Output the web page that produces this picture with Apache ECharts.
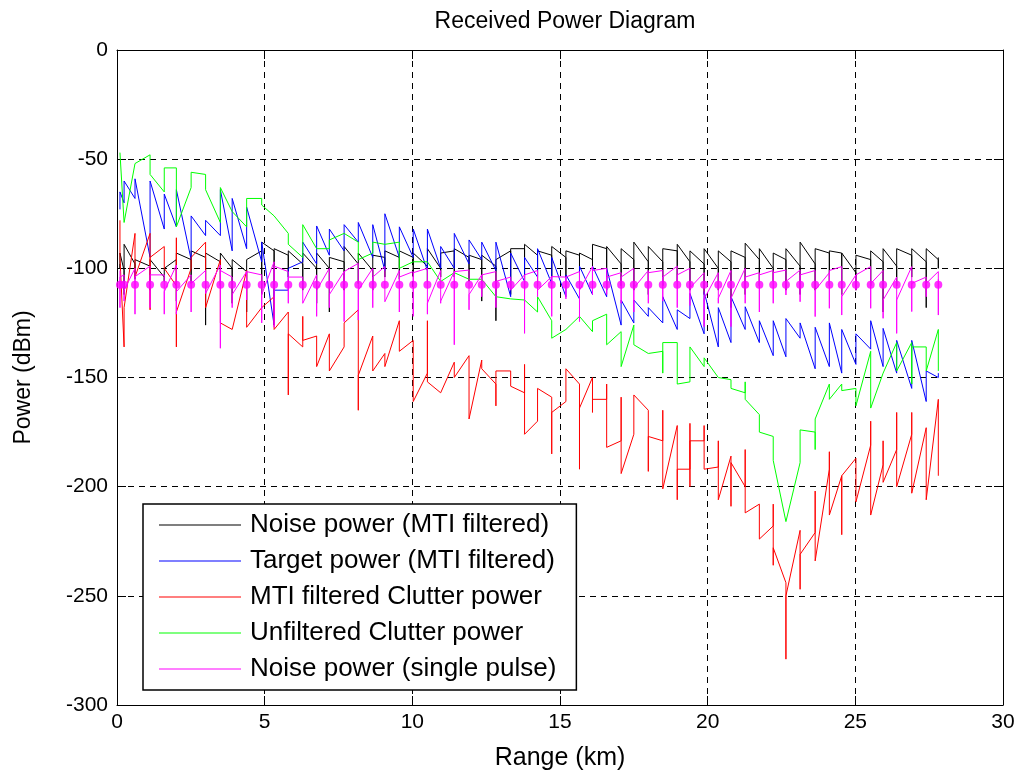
<!DOCTYPE html>
<html><head><meta charset="utf-8">
<script src="https://cdn.jsdelivr.net/npm/echarts@6/dist/echarts.min.js"></script>
<style>html,body{margin:0;padding:0;background:#fff}#c{width:1025px;height:771px}</style>
</head><body><div id="c"></div>
<script>
// Range positions (km) of the samples
const ranges = [0.10,0.24,0.61,1.12,1.60,2.01,2.51,3.00,3.50,3.90,4.39,4.90,5.32,5.80,6.29,6.76,7.19,7.69,8.17,8.66,9.07,9.56,10.03,10.51,10.96,11.42,11.92,12.35,12.83,13.33,13.80,14.24,14.72,15.20,15.66,16.10,16.58,17.07,17.50,17.99,18.48,18.97,19.40,19.88,20.36,20.79,21.27,21.75,22.22,22.65,23.13,23.64,24.12,24.54,25.02,25.52,25.94,26.40,26.91,27.40,27.81];

// Each entry: the power values (dBm) traced at that range, in drawing order
const noiseMti = [[-98,-100,-93],[-101,-112,-89],[-98,-105,-96],[-99,-110,-96],[-104,-106,-100],[-96,-115,-93],[-96,-107,-92],[-95,-126,-93],[-97,-108,-93],[-100,-116,-96],[-101.5,-120,-96],[-92,-112,-88],[-92,-126,-91],[-94,-104,-92],[-98,-110,-93],[-100,-116,-93],[-100,-120,-95],[-97,-110,-90],[-98,-107,-93],[-101,-110,-94],[-95,-104,-92],[-95,-105,-92],[-95,-104,-93],[-99,-106,-91],[-100,-104,-93],[-92,-104,-91],[-95,-106,-94],[-96,-115,-94],[-99,-124,-96],[-92,-112,-91],[-91,-110,-89],[-94,-108,-92],[-94,-104,-90],[-95,-104,-92],[-94,-108,-93],[-96,-106,-89],[-91,-110,-90],[-98,-108,-91],[-96,-110,-88],[-97,-112,-90],[-97,-108,-91],[-92,-106,-89],[-97,-110,-92],[-98,-112,-91],[-100,-110,-92],[-97,-118,-92],[-95,-112,-88.5],[-96,-108,-91],[-100,-106,-93],[-96,-110,-91],[-99,-112,-88],[-98,-110,-91],[-93,-108,-92],[-93,-112,-93],[-102,-110,-94],[-96,-108,-92],[-97,-120,-91],[-99,-108,-91],[-94,-104,-91],[-97,-118,-91],[-96,-100,-95]];

const targetMti = [[-73,-65],[-70,-60],[-68,-59],[-95,-60],[-82,-66],[-81,-64],[-96,-76],[-85,-78],[-85,-64],[-92,-68],[-91,-72],[-97,-88],[-126,-110],[-110,-100],[-97,-88],[-98,-80.6],[-94,-82],[-92,-80],[-88,-79],[-95,-80],[-101,-75],[-95,-81],[-95,-82],[-101,-82],[-100,-90],[-100,-84],[-98,-87],[-96,-88],[-101,-88],[-113,-93],[-106,-95],[-104,-91],[-107,-95],[-113,-103],[-114,-99],[-112,-99],[-113,-100],[-126,-114.5],[-125,-114.5],[-122,-118],[-125,-113],[-128,-119],[-123,-111.5],[-130,-110.7],[-136,-118],[-134,-113],[-128,-117.6],[-134,-124],[-140,-124],[-140.5,-123],[-132,-125],[-146,-127],[-145,-125],[-148,-128],[-144,-130],[-137,-124],[-145,-127.5],[-148,-133],[-155,-133],[-161,-147],[-150,-148]];

const clutterMti = [[-78,-95],[-136,-118],[-84,-104],[-84,-119,-95],[-90,-100],[-108,-86,-136,-120],[-100,-95],[-88,-118],[-96,-125],[-128],[-101,-127],[-118],[-113,-128],[-120,-158,-130],[-136,-122,-133],[-131,-145],[-130,-147],[-136,-125],[-119,-165,-149],[-131,-147],[-139,-145],[-124,-138],[-133,-161],[-148,-124,-152],[-157],[-143,-150],[-140,-169],[-142,-146],[-153,-163,-147],[-147,-154],[-157,-144,-176],[-170,-155],[-159,-185,-166],[-161,-146],[-153,-192,-164],[-150,-166,-160],[-160,-153,-182],[-179,-159,-194],[-176,-158],[-165,-193,-177],[-179,-165,-201],[-172,-206,-192],[-192,-171,-200,-179],[-179,-172,-192],[-191,-179,-206],[-186,-209,-189],[-200,-183,-212],[-208,-224],[-218,-208,-236,-228],[-244,-279,-250],[-220,-247,-231],[-221,-202,-234],[-192,-184,-213],[-195,-222,-195],[-187,-207],[-181,-170,-213],[-190,-179,-198],[-183,-166,-200],[-176,-166,-203],[-173,-206],[-160,-195]];

const clutterRaw = [[-47],[-79],[-52],[-48,-57],[-65,-54],[-54,-81],[-63,-56],[-57,-64],[-79,-63],[-74],[-81,-68],[-68,-71],[-76],[-84,-89],[-95,-80],[-91],[-91,-87],[-84],[-88,-96],[-93,-88],[-89],[-88,-100],[-97],[-97],[-106],[-102],[-105],[-105],[-113],[-114],[-114.5],[-120,-113],[-124,-132],[-128],[-122],[-129,-124],[-121,-135],[-129,-145],[-126,-135],[-139],[-138,-148,-134],[-134,-153],[-152,-136],[-145,-141],[-150],[-151,-155],[-157,-152,-160],[-167,-175],[-177,-188],[-216],[-189,-174],[-175,-183,-169],[-153,-160],[-153,-156],[-155,-163],[-138,-164],[-148],[-134,-147],[-134,-153,-136],[-136,-147],[-128,-147]];

const noiseSingle = [[-101,-118,-104],[-103,-115,-110],[-100,-121,-103.8],[-99,-118,-103],[-103,-121,-110.7],[-98.5,-121,-110.7],[-103,-120,-107],[-101,-111.5,-110.7],[-98.5,-136.6,-101],[-104,-118,-112],[-101.5,-114.5,-101.5],[-103,-125,-112],[-97,-127,-99],[-101.5,-116,-104],[-104,-116,-116],[-103,-122,-110],[-100,-118,-112],[-101.5,-124.4,-101.5],[-97.7,-123.7,-110],[-100,-118,-104],[-99.2,-115.3,-115.3],[-101,-120,-104],[-101.5,-122,-102],[-100,-121,-116],[-101,-116,-115],[-101.5,-135,-101.5],[-100.8,-119,-112],[-103,-113,-103],[-101.5,-118,-106],[-104,-110,-110],[-103,-129.8,-103],[-101,-113,-110],[-103.8,-122,-103.8],[-104,-114,-104],[-101.5,-124.4,-110],[-99.2,-112,-101],[-100,-112,-104],[-102,-116,-104],[-100,-120,-109],[-101,-116,-102],[-101,-115,-104],[-99,-118,-103],[-100,-117,-109],[-102,-126.7,-114],[-102,-116,-113.7],[-101,-126.7,-113.7],[-100,-116,-104],[-102,-120,-103],[-101,-116,-102],[-100.8,-112.2,-106],[-100.8,-115.3,-103],[-101,-122.1,-110],[-102,-118.3,-101],[-99.2,-121.4,-113],[-103,-110,-103],[-99.2,-118.3,-107],[-101,-122.9,-114.5],[-104,-129.8,-114.5],[-99.2,-119.8,-106.9],[-104,-113,-106.9],[-101.5,-121.4,-105]];

// Mean single-pulse noise level marked with dots at each range
const noiseDots = [-107.5,-107.5,-107.5,-107.5,-107.5,-107.5,-107.5,-107.5,-107.5,-107.5,-107.5,-107.5,-107.5,-107.5,-107.5,-107.5,-107.5,-107.5,-107.5,-107.5,-107.5,-107.5,-107.5,-107.5,-107.5,-107.5,-107.5,-107.5,-107.5,-107.5,-107.5,-107.5,-107.5,-107.5,-107.5,-107.5,-107.5,-107.5,-107.5,-107.5,-107.5,-107.5,-107.5,-107.5,-107.5,-107.5,-107.5,-107.5,-107.5,-107.5,-107.5,-107.5,-107.5,-107.5,-107.5,-107.5,-107.5,-107.5,-107.5,-107.5,-107.5];

const seriesNames = ['Noise power (MTI filtered)','Target power (MTI filtered)','MTI filtered Clutter power','Unfiltered Clutter power','Noise power (single pulse)'];
const seriesColors = ['#000000','#0000ff','#ff0000','#00ff00','#ff00ff'];
const seriesValues = [noiseMti, targetMti, clutterMti, clutterRaw, noiseSingle];

const FONT = 'Liberation Sans';

function toPath(list){
  const out = [];
  list.forEach((ys, i) => ys.forEach(y => out.push([ranges[i], y])));
  return out;
}

const chart = echarts.init(document.getElementById('c'), null, {renderer:'canvas'});

const lineSeries = seriesValues.map((vals, k) => ({
  name: seriesNames[k], type:'line', data: toPath(vals),
  symbol:'none', showSymbol:false, silent:true, animation:false,
  color: seriesColors[k],
  itemStyle:{color: seriesColors[k]},
  lineStyle:{color: seriesColors[k], width:1}, z: 2 + k
}));
lineSeries.push({
  name:'dots', type:'scatter', data: noiseDots.map((v,i)=>[ranges[i], v]),
  symbol:'circle', symbolSize:8, itemStyle:{color:'#ff00ff'}, silent:true, animation:false, z:8
});

const axisCommon = {
  axisLine:{show:true, onZero:false, lineStyle:{color:'#000', width:1}},
  axisTick:{show:true, inside:true, length:9, lineStyle:{color:'#000'}},
};

chart.setOption({
  animation:false,
  backgroundColor:'#ffffff',
  title:{text:'Received Power Diagram', left:560, top:5, textAlign:'center',
    textStyle:{fontFamily:FONT, fontSize:23, fontWeight:'normal', color:'#000'}},
  grid:{left:117, top:50, width:886, height:655, containLabel:false, outerBoundsMode:'none'},
  xAxis:[
    Object.assign({type:'value', min:0, max:30, interval:5, position:'bottom',
      name:'Range (km)', nameLocation:'middle', nameGap:41,
      nameTextStyle:{fontFamily:FONT, fontSize:25, color:'#000'},
      axisLabel:{fontFamily:FONT, fontSize:21, color:'#000', margin:7},
      splitLine:{show:true, lineStyle:{color:'#000', width:1, type:[6,5]}}}, axisCommon),
    Object.assign({type:'value', min:0, max:30, interval:5, position:'top',
      axisLabel:{show:false}, splitLine:{show:false}}, axisCommon)
  ],
  yAxis:[
    Object.assign({type:'value', min:-300, max:0, interval:50, position:'left',
      name:'Power (dBm)', nameLocation:'middle', nameGap:82, nameRotate:90,
      nameTextStyle:{fontFamily:FONT, fontSize:23, color:'#000'},
      axisLabel:{fontFamily:FONT, fontSize:21, color:'#000', margin:9},
      splitLine:{show:true, lineStyle:{color:'#000', width:1, type:[6,5]}}}, axisCommon),
    Object.assign({type:'value', min:-300, max:0, interval:50, position:'right',
      axisLabel:{show:false}, splitLine:{show:false}}, axisCommon)
  ],
  legend:{
    orient:'vertical', left:143, top:504, selectedMode:false,
    data: seriesNames.map((n, i) => ({name:n, icon:'rect', itemStyle:{color:seriesColors[i]}})),
    backgroundColor:'#ffffff', borderColor:'#000', borderWidth:1.5,
    padding:[8,20,8,16], itemWidth:82, itemHeight:1, itemGap:10,
    textStyle:{fontFamily:FONT, fontSize:26, color:'#000', lineHeight:24, padding:[0,0,0,4]}
  },
  series: lineSeries
});
</script></body></html>
